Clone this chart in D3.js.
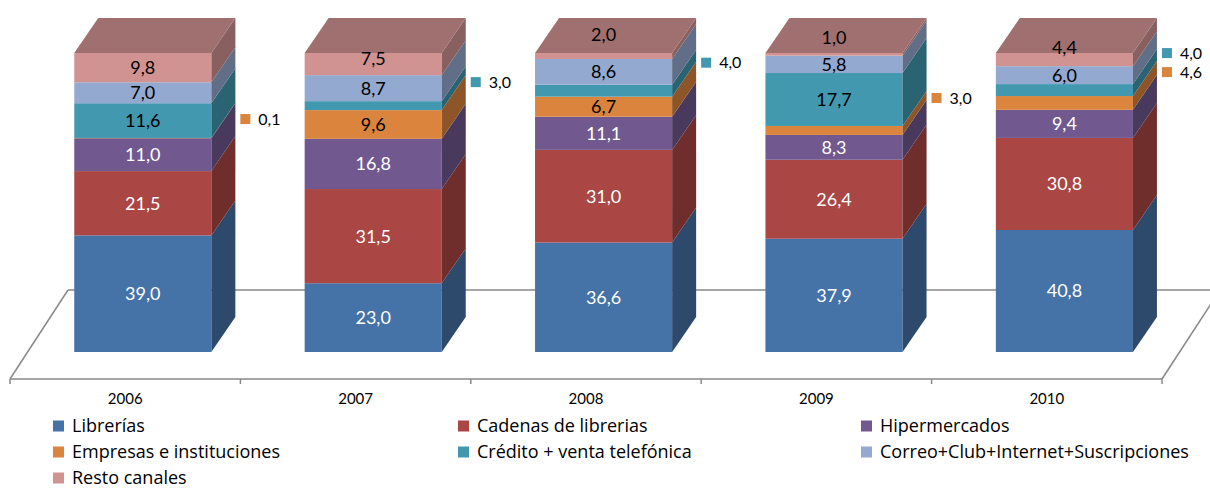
<!DOCTYPE html>
<html lang="es">
<head>
<meta charset="utf-8">
<title>Ventas por canal 2006-2010</title>
<script src="https://cdn.jsdelivr.net/npm/d3@7"></script>
<style>
  html, body { margin: 0; padding: 0; background: #fff; }
  svg { display: block; font-family: Lato, "Open Sans", sans-serif; }
</style>
</head>
<body>
<svg id="chart" width="1210" height="489"></svg>
<script>
// Cuota de ventas (%) por canal y año
const years = ["2006", "2007", "2008", "2009", "2010"];
const seriesNames = [
  "Librerías",
  "Cadenas de librerias",
  "Hipermercados",
  "Empresas e instituciones",
  "Crédito + venta telefónica",
  "Correo+Club+Internet+Suscripciones",
  "Resto canales"
];
const librerias     = [39.0, 23.0, 36.6, 37.9, 40.8];
const cadenas       = [21.5, 31.5, 31.0, 26.4, 30.8];
const hipermercados = [11.0, 16.8, 11.1,  8.3,  9.4];
const empresas      = [ 0.1,  9.6,  6.7,  3.0,  4.6];
const credito       = [11.6,  3.0,  4.0, 17.7,  4.0];
const correo        = [ 7.0,  8.7,  8.6,  5.8,  6.0];
const resto         = [ 9.8,  7.5,  2.0,  1.0,  4.4];

const seriesValues = [librerias, cadenas, hipermercados, empresas, credito, correo, resto];
const seriesColors = ["#4572A7", "#AA4643", "#71588F", "#DB843D", "#4198AF", "#93A9CF", "#D19392"];
const lightText = [true, true, true, false, false, false, false];

// Layout
const floorFront = { x0: 10, x1: 1162, y: 379 };
const floorDepth = { dx: 58, dy: 89 };
const barDepth = { dx: 24, dy: 35 };
const barInset = { dx: 17.6, dy: 27 };      // bar front plane relative to floor front edge
const topLabelLift = [0, 6, 21, 16.5, 12.5]; // raise of the label on the top segment
const smallValue = 5;                         // values below this are labelled beside the bar

const svg = d3.select("#chart");
const fmt = d3.formatLocale({ decimal: ",", thousands: ".", grouping: [3], currency: ["", "€"] }).format(".1f");

const shade = (c, k) => { const r = d3.rgb(c); return d3.rgb(r.r * k, r.g * k, r.b * k).formatHex(); };

// Category scale across the floor front edge
const x = d3.scaleBand()
  .domain(years)
  .range([floorFront.x0, floorFront.x1])
  .paddingInner(0.405)
  .paddingOuter(0.2025);

// Boundary positions between categories
const boundary = d3.scaleLinear().domain([0, years.length]).range([floorFront.x0, floorFront.x1]);

// Value scale on the bars' front plane
const yBase = floorFront.y - barInset.dy;
const y = d3.scaleLinear().domain([0, 100]).range([yBase, 53]).clamp(true);

// Stacked data
const rows = years.map((yr, i) => {
  const r = { year: yr };
  seriesNames.forEach((s, j) => { r[s] = seriesValues[j][i]; });
  return r;
});
const stacked = d3.stack().keys(seriesNames)(rows);

// ---- Floor ----
const floorColor = "#898989";
const floor = svg.append("g").attr("stroke", floorColor).attr("stroke-width", 1.5).attr("fill", "none");
floor.append("line")
  .attr("x1", floorFront.x0 + floorDepth.dx).attr("y1", floorFront.y - floorDepth.dy)
  .attr("x2", floorFront.x1 + floorDepth.dx).attr("y2", floorFront.y - floorDepth.dy);
floor.append("line")
  .attr("x1", floorFront.x0).attr("y1", floorFront.y)
  .attr("x2", floorFront.x0 + floorDepth.dx).attr("y2", floorFront.y - floorDepth.dy);
floor.append("line")
  .attr("x1", floorFront.x1).attr("y1", floorFront.y)
  .attr("x2", floorFront.x1 + floorDepth.dx).attr("y2", floorFront.y - floorDepth.dy);
floor.append("line")
  .attr("x1", floorFront.x0).attr("y1", floorFront.y)
  .attr("x2", floorFront.x1).attr("y2", floorFront.y);
floor.selectAll("line.tick")
  .data(d3.range(years.length + 1))
  .join("line")
  .attr("class", "tick")
  .attr("x1", d => boundary(d)).attr("x2", d => boundary(d))
  .attr("y1", floorFront.y).attr("y2", floorFront.y + 5);

// Category labels
const axis = d3.axisBottom(x).tickSize(0).tickPadding(0);
const axisG = svg.append("g").attr("transform", `translate(0,${floorFront.y + 14})`).call(axis);
axisG.select(".domain").remove();
axisG.selectAll("text")
  .attr("font-family", "Lato, sans-serif")
  .attr("font-size", 15)
  .attr("fill", "#000")
  .attr("dy", "0.71em");

// ---- Bars ----
const bars = svg.append("g");
const barX0 = yr => x(yr) + barInset.dx;
const barX1 = yr => x(yr) + barInset.dx + x.bandwidth();
const poly = pts => pts.map(p => p.join(",")).join(" ");

years.forEach((yr, i) => {
  const g = bars.append("g");
  const xa = barX0(yr), xb = barX1(yr);
  stacked.forEach((layer, j) => {
    const d = layer[i];
    const y0 = y(d[0]), y1 = y(d[1]);
    if (y0 - y1 <= 0) return;
    g.append("rect")
      .attr("x", xa).attr("y", y1)
      .attr("width", xb - xa).attr("height", y0 - y1)
      .attr("fill", seriesColors[j]);
    g.append("polygon")
      .attr("points", poly([[xb, y0], [xb + barDepth.dx, y0 - barDepth.dy],
                            [xb + barDepth.dx, y1 - barDepth.dy], [xb, y1]]))
      .attr("fill", shade(seriesColors[j], 0.65));
  });
  // top face in the colour of the uppermost series
  const topIdx = d3.max(stacked.map((l, j) => (l[i][1] > l[i][0] ? j : -1)));
  const yt = y(stacked[topIdx][i][1]);
  g.append("polygon")
    .attr("points", poly([[xa, yt], [xa + barDepth.dx, yt - barDepth.dy],
                          [xb + barDepth.dx, yt - barDepth.dy], [xb, yt]]))
    .attr("fill", shade(seriesColors[topIdx], 0.76));
});

// ---- Value labels ----
const labels = svg.append("g").attr("font-family", "Lato, sans-serif");
years.forEach((yr, i) => {
  const xa = barX0(yr), xb = barX1(yr);
  const topIdx = seriesNames.length - 1;
  const callouts = [];
  stacked.forEach((layer, j) => {
    const d = layer[i];
    const v = seriesValues[j][i];
    const mid = (y(d[0]) + y(d[1])) / 2;
    if (v < smallValue && j !== topIdx) {
      callouts.push({ j, v, y: mid - barDepth.dy / 2 - (1.5 + 4.5 * i) });
      return;
    }
    labels.append("text")
      .attr("x", (xa + xb) / 2)
      .attr("y", j === topIdx ? mid - topLabelLift[i] : mid)
      .attr("dy", "0.36em")
      .attr("text-anchor", "middle")
      .attr("font-size", 18)
      .attr("fill", lightText[j] ? "#fff" : "#000")
      .text(fmt(v));
  });
  // side labels, stacked top-down without overlap
  callouts.sort((a, b) => a.y - b.y);
  for (let k = 1; k < callouts.length; k++) {
    if (callouts[k].y - callouts[k - 1].y < 19) callouts[k].y = callouts[k - 1].y + 19;
  }
  const cx = xb + barDepth.dx + 5;
  callouts.forEach(c => {
    labels.append("rect")
      .attr("x", cx).attr("y", c.y - 5)
      .attr("width", 10).attr("height", 10)
      .attr("fill", seriesColors[c.j]);
    labels.append("text")
      .attr("x", cx + 18).attr("y", c.y)
      .attr("dy", "0.36em")
      .attr("font-size", 16)
      .attr("fill", "#000")
      .text(fmt(c.v));
  });
});

// ---- Legend ----
const legendCols = [53, 458, 861];
const legendRows = [426, 452, 478];
const legend = svg.append("g").attr("font-family", "'Open Sans', sans-serif");
const items = legend.selectAll("g")
  .data(seriesNames)
  .join("g")
  .attr("transform", (d, i) => `translate(${legendCols[i % 3]},${legendRows[Math.floor(i / 3)]})`);
items.append("rect")
  .attr("x", 0).attr("y", -5.5)
  .attr("width", 11).attr("height", 11)
  .attr("fill", (d, i) => seriesColors[i]);
items.append("text")
  .attr("x", 19).attr("y", 0)
  .attr("dy", "0.36em")
  .attr("font-size", 18)
  .attr("fill", "#000")
  .text(d => d);
</script>
</body>
</html>
